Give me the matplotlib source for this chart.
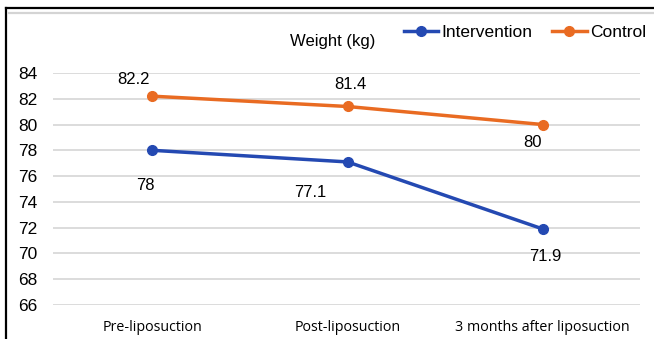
import matplotlib.pyplot as plt
from matplotlib.lines import Line2D

# data
categories = ['Pre-liposuction', 'Post-liposuction', '3 months after liposuction']
intervention = [78, 77.1, 71.9]
control = [82.2, 81.4, 80]
yticks = [66, 68, 70, 72, 74, 76, 78, 80, 82, 84]

# label offsets in points (dx, dy)
int_offsets = [(-5, -25), (-27, -22), (2, -20)]
ctl_offsets = [(-14, 12), (2, 16), (-7, -13)]

blue = '#2449B2'
orange = '#E96B22'

plt.rcParams['font.family'] = ['Liberation Sans', 'DejaVu Sans']

fig = plt.figure(figsize=(6.54, 3.39), dpi=100)
ax = fig.add_axes([0.081, 0.1003, 0.898, 0.6844])

x = list(range(len(categories)))
ax.plot(x, intervention, color=blue, lw=2.5, marker='o', ms=7, label='Intervention', zorder=3)
ax.plot(x, control, color=orange, lw=2.5, marker='o', ms=7, label='Control', zorder=3)

for i, v in enumerate(intervention):
    ax.annotate(f'{v:g}', (i, v), xytext=int_offsets[i], textcoords='offset points',
                ha='center', va='center', fontsize=12)
for i, v in enumerate(control):
    ax.annotate(f'{v:g}', (i, v), xytext=ctl_offsets[i], textcoords='offset points',
                ha='center', va='center', fontsize=12)

ax.set_xlim(-0.51, 2.5)
ax.set_ylim(66, 84)
ax.set_yticks(yticks)
ax.set_yticklabels([str(t) for t in yticks], fontsize=12.5)
ax.set_xticks(x)
ax.set_xticklabels(categories, fontsize=10.3, family=['Open Sans', 'DejaVu Sans'])
ax.tick_params(length=0)
ax.tick_params(axis='y', pad=11)
ax.tick_params(axis='x', pad=11)
ax.grid(axis='y', color='#d9d9d9', lw=1.3)
for s in ax.spines.values():
    s.set_visible(False)

# legend with the axis title in front of it
fig.text(0.508, 0.878, 'Weight (kg)', ha='center', va='center', fontsize=12)
fig.legend(loc='center left', bbox_to_anchor=(0.617, 0.903), ncol=2, frameon=False,
           fontsize=12.5, handlelength=2.0, handletextpad=0.2, columnspacing=1.1,
           borderpad=0, borderaxespad=0)

# cropped frame at the top and left
fig.add_artist(Line2D([0.009, 0.009], [0, 0.977], color='black', lw=1.6))
fig.add_artist(Line2D([0.009, 1], [0.977, 0.977], color='black', lw=1.6))
fig.add_artist(Line2D([0.013, 1], [0.963, 0.963], color='#d4d4d4', lw=1.6))

fig.savefig('out.png', dpi=100)
